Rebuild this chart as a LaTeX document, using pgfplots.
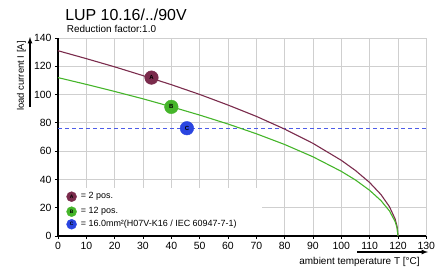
\documentclass[border=0pt]{standalone}
\usepackage{fontspec}
\setmainfont{Liberation Sans}
\usepackage{pgfplots}
\pgfplotsset{compat=1.18}
\definecolor{cA}{HTML}{7A2B4C}
\definecolor{cB}{HTML}{45B52A}
\definecolor{cC}{HTML}{2A45E0}
\definecolor{cCl}{HTML}{4D5CE8}
\definecolor{gridc}{HTML}{CFCFCF}
\begin{document}
\begin{tikzpicture}[x=1bp,y=1bp]
\useasboundingbox (-58,-35) rectangle (387,236);
\begin{axis}[
  at={(0,0)}, anchor=origin,
  scale only axis, width=368.3bp, height=198bp,
  xmin=0, xmax=130, ymin=0, ymax=140,
  axis x line*=bottom, axis y line*=left,
  axis line style={black, line width=1.2pt},
  xtick={0,10,...,130}, ytick={0,20,...,140},
  grid=major, major grid style={gridc, line width=0.8pt},
  tick align=outside, major tick length=3bp,
  tick style={black, line width=0.8pt},
  tick label style={font=\fontsize{10.5}{11}\selectfont},
  /pgf/number format/assume math mode=true,
  clip=false,
]
\fill[white] (axis cs:0.5,0.6) rectangle (axis cs:72,34);
\addplot[cCl, line width=1.4pt, dash pattern=on 4bp off 3bp] coordinates {(0,76) (130,76)};
\addplot[cA, line width=1.1pt] coordinates {
(0,131) (10,125.4) (20,119.6) (30,113.4) (40,107.0) (50,100.1) (60,92.6) (70,84.6)
(80,75.6) (90,65.5) (100,53.5) (105,46.3) (110,37.8) (114,29.3) (117,20.7) (119,12.0) (119.7,6.6) (120,0)};
\addplot[cB, line width=1.1pt] coordinates {
(0,112) (10,107.2) (20,102.2) (30,97.0) (40,91.4) (50,85.5) (60,79.2) (70,72.3)
(80,64.7) (90,56.0) (100,45.7) (105,39.6) (110,32.3) (114,25.0) (117,17.7) (119,10.2) (119.7,5.6) (120,0)};
% markers on curves
\addplot[only marks, mark=*, mark size=6.8bp, color=cA, nodes near coords={\fontsize{6}{6}\selectfont\textbf{A}}, every node near coord/.append style={anchor=center, text=black}] coordinates {(33,112)};
\addplot[only marks, mark=*, mark size=6.8bp, color=cB, nodes near coords={\fontsize{6}{6}\selectfont\textbf{B}}, every node near coord/.append style={anchor=center, text=black}] coordinates {(40,91.3)};
\addplot[only marks, mark=*, mark size=6.8bp, color=cC, nodes near coords={\fontsize{6}{6}\selectfont\textbf{C}}, every node near coord/.append style={anchor=center, text=black}] coordinates {(45.5,76.2)};
% legend markers
\addplot[only marks, mark=*, mark size=5bp, color=cA, nodes near coords={\fontsize{5}{5}\selectfont\textbf{A}}, every node near coord/.append style={anchor=center, text=black}] coordinates {(4.8,27.8)};
\addplot[only marks, mark=*, mark size=5bp, color=cB, nodes near coords={\fontsize{5}{5}\selectfont\textbf{B}}, every node near coord/.append style={anchor=center, text=black}] coordinates {(4.8,17.2)};
\addplot[only marks, mark=*, mark size=5bp, color=cC, nodes near coords={\fontsize{5}{5}\selectfont\textbf{C}}, every node near coord/.append style={anchor=center, text=black}] coordinates {(4.8,8.3)};
\node[anchor=west, font=\fontsize{9}{10}\selectfont, inner sep=0] at (axis cs:8,27.8) {= 2 pos.};
\node[anchor=west, font=\fontsize{9}{10}\selectfont, inner sep=0] at (axis cs:8,17.2) {= 12 pos.};
\node[anchor=west, font=\fontsize{9}{10}\selectfont, inner sep=0] at (axis cs:8,8.3) {= 16.0mm²(H07V-K16 / IEC 60947-7-1)};
\end{axis}
\node[font=\fontsize{16}{17}\selectfont] at (68,221) {LUP 10.16/../90V};
\node[font=\fontsize{10}{11}\selectfont] at (53.5,207) {Reduction factor:1.0};
\node[font=\fontsize{10}{11}\selectfont] at (301.5,-26) {ambient temperature T [°C]};
\draw[-latex, line width=1.2pt] (299,-16) -- (370,-16);
\node[rotate=90, font=\fontsize{9.5}{10}\selectfont] at (-36.5,160) {load current I [A]};
\draw[-latex, line width=1.2pt] (-28,129) -- (-28,199);
\end{tikzpicture}
\end{document}
